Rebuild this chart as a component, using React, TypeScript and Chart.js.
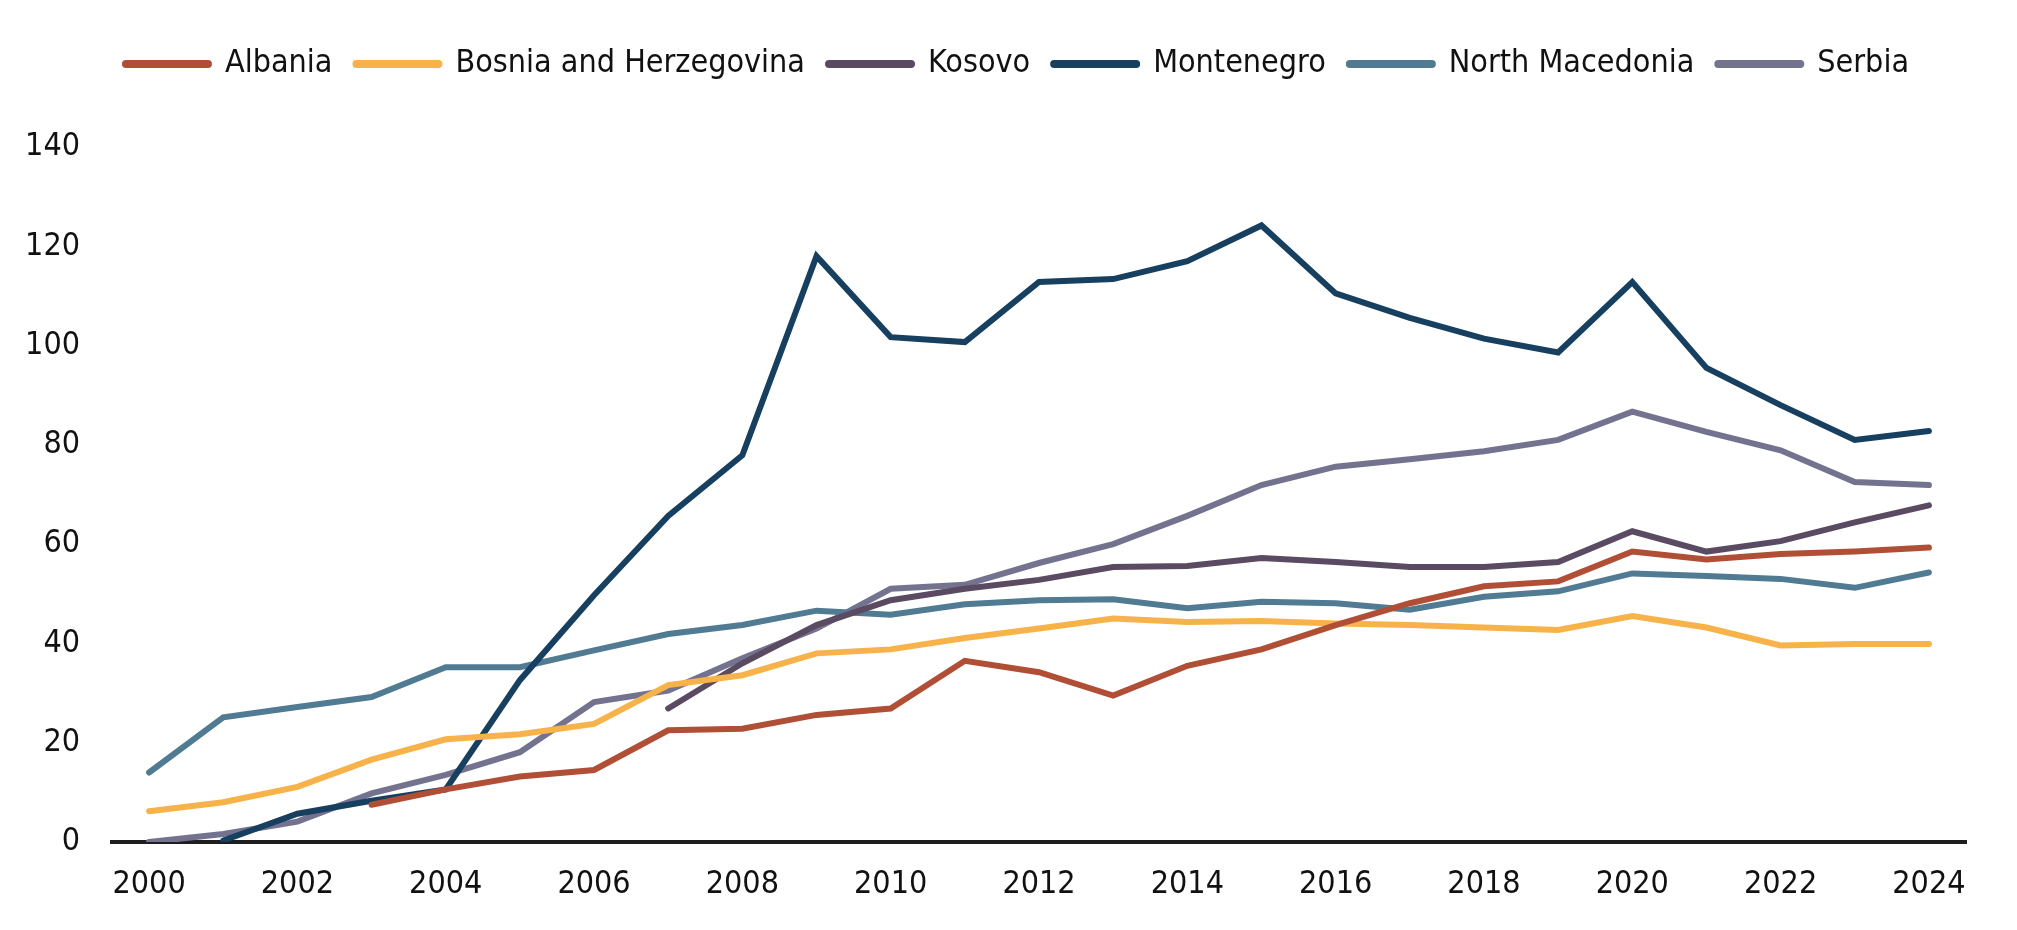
import { useEffect, useRef } from 'react';
import { Chart, registerables } from 'chart.js';

Chart.register(...registerables);

const years = [
    '2000', '2001', '2002', '2003', '2004', '2005', '2006', '2007', '2008', '2009', '2010', '2011', '2012',
    '2013', '2014', '2015', '2016', '2017', '2018', '2019', '2020', '2021', '2022', '2023', '2024',
];

const albania = [null, null, null, 7.5, 10.6, 13.2, 14.5, 22.5, 22.8, 25.6, 26.9, 36.5, 34.2, 29.5, 35.5, 38.8, 43.7, 48.1, 51.5, 52.5, 58.5, 56.9, 58.0, 58.5, 59.3];
const bosnia = [6.2, 8.0, 11.1, 16.6, 20.7, 21.7, 23.8, 31.6, 33.6, 38.0, 38.8, 41.1, 43.0, 45.0, 44.3, 44.5, 44.0, 43.7, 43.2, 42.7, 45.5, 43.2, 39.6, 39.9, 39.9];
const kosovo = [null, null, null, null, null, null, null, 26.9, 36.0, 43.7, 48.7, 51.0, 52.8, 55.4, 55.6, 57.2, 56.4, 55.4, 55.4, 56.4, 62.6, 58.5, 60.6, 64.4, 67.8];
const montenegro = [null, 0.3, 5.7, 8.3, 10.6, 32.6, 49.7, 65.7, 77.9, 118.0, 101.7, 100.7, 112.8, 113.4, 117.0, 124.2, 110.5, 105.6, 101.4, 98.6, 112.8, 95.5, 88.0, 81.0, 82.8];
const northMacedonia = [14.0, 25.1, 27.2, 29.2, 35.2, 35.2, 38.6, 41.9, 43.7, 46.6, 45.8, 47.9, 48.7, 48.9, 47.1, 48.4, 48.1, 46.8, 49.4, 50.5, 54.1, 53.6, 53.0, 51.2, 54.3];
const serbia = [0.0, 1.6, 4.1, 9.8, 13.5, 18.1, 28.2, 30.5, 37.0, 43.0, 51.0, 51.8, 56.2, 60.0, 65.7, 71.9, 75.6, 77.1, 78.7, 81.0, 86.7, 82.6, 78.9, 72.5, 71.9];

const series = [
    { label: 'Albania', data: albania, color: '#b04f36' },
    { label: 'Bosnia and Herzegovina', data: bosnia, color: '#f8b24a' },
    { label: 'Kosovo', data: kosovo, color: '#5a4a62' },
    { label: 'Montenegro', data: montenegro, color: '#173f5f' },
    { label: 'North Macedonia', data: northMacedonia, color: '#507b93' },
    { label: 'Serbia', data: serbia, color: '#737390' },
];

const FONT = "'DejaVu Sans Condensed', 'DejaVu Sans', sans-serif";

// more room under the legend, and nudge it right a little
const legendGap = {
    id: 'legendGap',
    beforeInit(chart: any) {
        const fit = chart.legend.fit;
        chart.legend.fit = function () {
            fit.bind(chart.legend)();
            this.height += 57;
        };
    },
    afterLayout(chart: any) {
        chart.legend.left += 30;
        chart.legend.right += 30;
    },
};

export default function App() {
    const chartRef = useRef<HTMLCanvasElement>(null);
    const chartInstance = useRef<Chart | null>(null);

    useEffect(() => {
        if (!chartRef.current) return;
        const ctx = chartRef.current.getContext('2d');
        if (!ctx) return;
        if (chartInstance.current) chartInstance.current.destroy();

        chartInstance.current = new Chart(ctx, {
            type: 'line',
            data: {
                labels: years,
                datasets: series.map((s) => ({
                    label: s.label,
                    data: s.data,
                    borderColor: s.color,
                    backgroundColor: s.color,
                    borderWidth: 6,
                    borderCapStyle: 'round',
                    borderJoinStyle: 'miter',
                    pointRadius: 0,
                    tension: 0,
                })),
            },
            options: {
                animation: false,
                responsive: true,
                maintainAspectRatio: false,
                layout: { padding: { top: 17, right: 43, left: 0, bottom: 0 } },
                plugins: {
                    legend: {
                        display: true,
                        position: 'top',
                        labels: {
                            color: '#111',
                            font: { family: FONT, size: 32 },
                            boxWidth: 84,
                            boxHeight: 2,
                            useBorderRadius: true,
                            borderRadius: 1,
                            padding: 23,
                        },
                    },
                    tooltip: { enabled: false },
                },
                scales: {
                    x: {
                        offset: true,
                        grid: { display: false },
                        border: { display: true, color: '#1e1e1e', width: 4 },
                        ticks: {
                            color: '#111',
                            font: { family: FONT, size: 32 },
                            autoSkip: false,
                            maxRotation: 0,
                            padding: 15,
                            callback: (_v, i) => (i % 2 === 0 ? years[i] : ''),
                        },
                        afterFit: (scale) => {
                            scale.height = 80;
                        },
                    },
                    y: {
                        min: 0,
                        max: 140,
                        grid: { display: false },
                        border: { display: false },
                        ticks: {
                            stepSize: 20,
                            color: '#111',
                            font: { family: FONT, size: 32 },
                            padding: 24,
                        },
                        afterFit: (scale) => {
                            scale.width = 104;
                        },
                    },
                },
            },
            plugins: [legendGap],
        });

        return () => {
            if (chartInstance.current) {
                chartInstance.current.destroy();
                chartInstance.current = null;
            }
        };
    }, []);

    return (
        <div style={{ width: 2001, height: 914, position: 'relative' }}>
            <canvas ref={chartRef}></canvas>
        </div>
    );
}
